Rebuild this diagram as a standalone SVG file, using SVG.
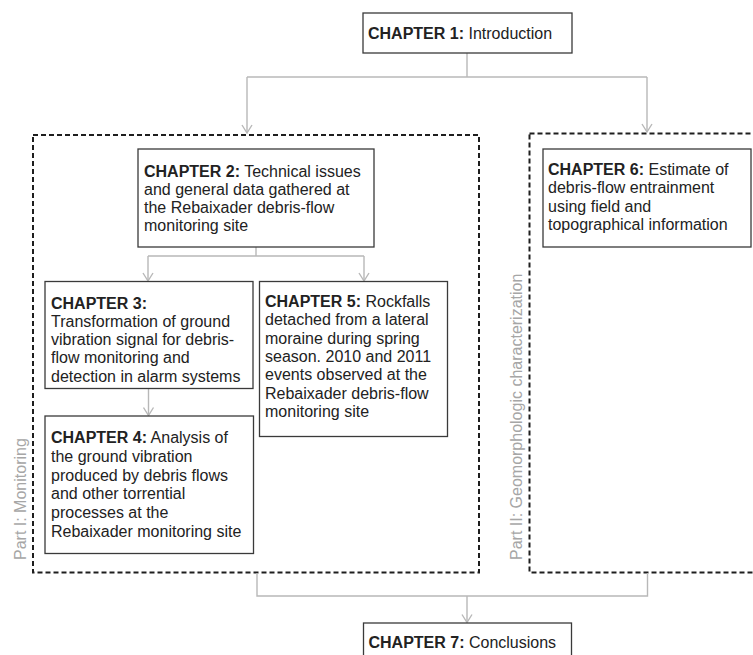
<svg xmlns="http://www.w3.org/2000/svg" width="753" height="655" viewBox="0 0 753 655">
  <style>
    .box { fill: #ffffff; stroke: #3a3a3a; stroke-width: 1.3; }
    .part { fill: none; stroke: #1e1e1e; stroke-width: 2; stroke-dasharray: 5 3; }
    .conn { fill: none; stroke: #b8b8b8; stroke-width: 1.4; }
    .txt { font-family: "Liberation Sans", Arial, sans-serif; font-size: 16px; fill: #222222; }
    .txt tspan.b { font-weight: bold; }
    .lbl { font-family: "Liberation Sans", Arial, sans-serif; font-size: 16px; fill: #a6a6a6; }
  </style>
  <defs>
    <marker id="arr" viewBox="-10 -6 12 12" markerWidth="12" markerHeight="12" refX="0" refY="0" orient="auto" markerUnits="userSpaceOnUse">
      <path d="M-8,-5 L0,0 L-8,5" fill="none" stroke="#b8b8b8" stroke-width="1.4"/>
    </marker>
  </defs>

  <rect width="753" height="655" fill="#ffffff"/>

  <!-- part frames -->
  <g id="part1">
    <rect class="part" x="33" y="135" width="446" height="437.5"/>
    <text class="lbl" transform="translate(26,560) rotate(-90)">Part I: Monitoring</text>
  </g>
  <g id="part2">
    <rect class="part" x="529.5" y="133.5" width="240" height="439"/>
    <text class="lbl" transform="translate(522,560) rotate(-90)">Part II: Geomorphologic characterization</text>
  </g>

  <!-- connectors -->
  <g id="connectors">
    <path class="conn" d="M467,53 V77"/>
    <path class="conn" d="M247,77 H647"/>
    <path class="conn" d="M247,77 V133" marker-end="url(#arr)"/>
    <path class="conn" d="M647,77 V132" marker-end="url(#arr)"/>
    <path class="conn" d="M256,247 V256 M148,256 H364"/>
    <path class="conn" d="M148,256 V281" marker-end="url(#arr)"/>
    <path class="conn" d="M364,256 V281" marker-end="url(#arr)"/>
    <path class="conn" d="M148.5,388.5 V415.5" marker-end="url(#arr)"/>
    <path class="conn" d="M257,573 V596 H647.5 V573"/>
    <path class="conn" d="M467,596 V622.5" marker-end="url(#arr)"/>
  </g>

  <!-- chapters -->
  <g id="ch1">
    <rect class="box" x="363" y="13" width="209" height="40"/>
    <text class="txt" x="368" y="39"><tspan class="b">CHAPTER 1:</tspan> Introduction</text>
  </g>

  <g id="ch2">
    <rect class="box" x="138" y="149" width="236" height="98"/>
    <text class="txt">
      <tspan x="144" y="176.5"><tspan class="b">CHAPTER 2:</tspan> Technical issues</tspan>
      <tspan x="144" y="194.5">and general data gathered at</tspan>
      <tspan x="144" y="212.5">the Rebaixader debris-flow</tspan>
      <tspan x="144" y="230.5">monitoring site</tspan>
    </text>
  </g>

  <g id="ch3">
    <rect class="box" x="45" y="281.5" width="208" height="107"/>
    <text class="txt">
      <tspan x="51" y="308.5" class="b">CHAPTER 3:</tspan>
      <tspan x="51" y="326.8">Transformation of ground</tspan>
      <tspan x="51" y="345.1">vibration signal for debris-</tspan>
      <tspan x="51" y="363.4">flow monitoring and</tspan>
      <tspan x="51" y="381.7">detection in alarm systems</tspan>
    </text>
  </g>

  <g id="ch4">
    <rect class="box" x="45" y="416" width="208.5" height="137.5"/>
    <text class="txt">
      <tspan x="51" y="443"><tspan class="b">CHAPTER 4:</tspan> Analysis of</tspan>
      <tspan x="51" y="461.8">the ground vibration</tspan>
      <tspan x="51" y="480.6">produced by debris flows</tspan>
      <tspan x="51" y="499.4">and other torrential</tspan>
      <tspan x="51" y="518.2">processes at the</tspan>
      <tspan x="51" y="537">Rebaixader monitoring site</tspan>
    </text>
  </g>

  <g id="ch5">
    <rect class="box" x="259.5" y="281.5" width="188" height="155"/>
    <text class="txt">
      <tspan x="265" y="307"><tspan class="b">CHAPTER 5:</tspan> Rockfalls</tspan>
      <tspan x="265" y="325.3">detached from a lateral</tspan>
      <tspan x="265" y="343.6">moraine during spring</tspan>
      <tspan x="265" y="361.9">season. 2010 and 2011</tspan>
      <tspan x="265" y="380.2">events observed at the</tspan>
      <tspan x="265" y="398.5">Rebaixader debris-flow</tspan>
      <tspan x="265" y="416.8">monitoring site</tspan>
    </text>
  </g>

  <g id="ch6">
    <rect class="box" x="543" y="149" width="208" height="98"/>
    <text class="txt">
      <tspan x="548" y="175"><tspan class="b">CHAPTER 6:</tspan> Estimate of</tspan>
      <tspan x="548" y="193.3">debris-flow entrainment</tspan>
      <tspan x="548" y="211.6">using field and</tspan>
      <tspan x="548" y="229.9">topographical information</tspan>
    </text>
  </g>

  <g id="ch7">
    <rect class="box" x="363.5" y="623" width="208" height="40"/>
    <text class="txt" x="368.5" y="648"><tspan class="b">CHAPTER 7:</tspan> Conclusions</text>
  </g>
</svg>
